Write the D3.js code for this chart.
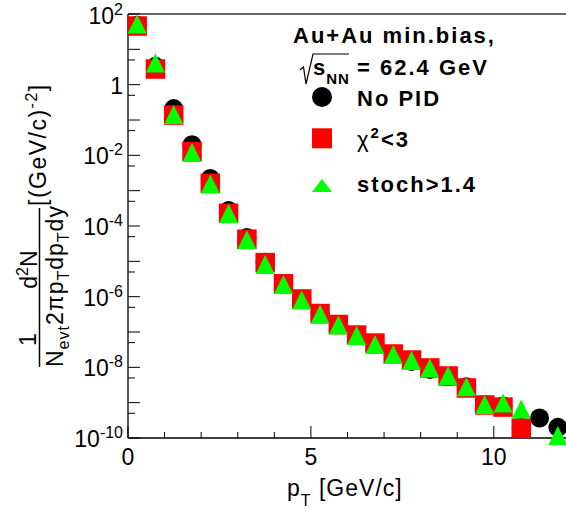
<!DOCTYPE html>
<html><head><meta charset="utf-8">
<script src="https://cdn.jsdelivr.net/npm/d3@7"></script>
<style>body{margin:0;background:#fff}svg{display:block}</style>
</head><body>
<script>
// ---- data ----
const pT = [0.25,0.75,1.25,1.75,2.25,2.75,3.25,3.75,4.25,4.75,5.25,5.75,6.25,6.75,7.25,7.75,8.25,8.75,9.25,9.75,10.25,10.75,11.25,11.75];
const noPID = [48,3.3,0.21,0.020,2.2e-3,2.75e-4,4.7e-5,9.4e-6,2.35e-6,8.6e-7,3.35e-7,1.6e-7,8.1e-8,4.7e-8,2.35e-8,1.46e-8,8.7e-9,5.6e-9,2.8e-9,8.8e-10,8.0e-10,2.0e-10,3.67e-10,2.0e-10];
const chi2 = [45.7,2.77,0.138,0.0128,1.61e-3,2.29e-4,4.23e-5,9.2e-6,2.32e-6,8.6e-7,3.33e-7,1.63e-7,8.2e-8,4.87e-8,2.38e-8,1.61e-8,9.6e-9,5.7e-9,2.6e-9,8.6e-10,7.5e-10,1.9e-10,null,null];
const stoch = [52,4.1,0.143,0.012,1.54e-3,2.25e-4,4.07e-5,8.1e-6,2.2e-6,8.0e-7,3.2e-7,1.58e-7,7.9e-8,4.4e-8,2.3e-8,1.56e-8,9.6e-9,5.9e-9,2.8e-9,8.9e-10,9.8e-10,6.6e-10,null,1.17e-10];
const xTicks = [0,5,10];
const yLabelExps = [2,0,-2,-4,-6,-8,-10];

const W=566,H=512;
const FONT='"Liberation Sans", Arial, Helvetica, sans-serif';
const svg=d3.select("body").append("svg").attr("width",W).attr("height",H);
const x=d3.scaleLinear().domain([0,12]).range([128,567]);
const y=d3.scaleLog().domain([1e-10,1e2]).range([438,14]);

// frame
svg.append("line").attr("x1",128).attr("x2",567).attr("y1",14).attr("y2",14).attr("stroke","#333").attr("stroke-width",1.5);
svg.append("line").attr("x1",128).attr("x2",128).attr("y1",14).attr("y2",438).attr("stroke","#000").attr("stroke-width",1.3);
svg.append("line").attr("x1",128).attr("x2",567).attr("y1",438).attr("y2",438).attr("stroke","#000").attr("stroke-width",1.3);

// x ticks
d3.range(0,13).forEach(v=>{
  const major = v%5===0;
  svg.append("line").attr("x1",x(v)).attr("x2",x(v)).attr("y1",438).attr("y2",438-(major?12:6)).attr("stroke","#000").attr("stroke-width",1);
});
xTicks.forEach(v=>{
  svg.append("text").attr("x",x(v)).attr("y",465).attr("text-anchor","middle")
    .attr("font-family",FONT).attr("font-size",23).text(v);
});
// x title
{
  const t=svg.append("text").attr("x",287).attr("y",496).attr("font-family",FONT).attr("font-size",23).attr("letter-spacing",1);
  t.append("tspan").text("p");
  t.append("tspan").attr("font-size",16).attr("dy",10).text("T");
  t.append("tspan").attr("dy",-10).text(" [GeV/c]");
}

// y ticks
for(let n=-10;n<=2;n++){
  svg.append("line").attr("x1",128).attr("x2",140).attr("y1",y(Math.pow(10,n))).attr("y2",y(Math.pow(10,n))).attr("stroke","#000");
  if(n<2){
    const v=5*Math.pow(10,n);
    svg.append("line").attr("x1",128).attr("x2",135).attr("y1",y(v)).attr("y2",y(v)).attr("stroke","#000");
  }
}
yLabelExps.forEach(n=>{
  const yy=y(Math.pow(10,n));
  const t=svg.append("text").attr("x",123).attr("y",yy+(n===2?10:9)).attr("text-anchor","end")
    .attr("font-family",FONT).attr("font-size",23);
  if(n===0){ t.text("1"); }
  else {
    t.append("tspan").text("10");
    t.append("tspan").attr("font-size",16).attr("dy",-9).text(n);
  }
});

// y title (rotated)
{
  const g=svg.append("g").attr("transform","translate(63,367) rotate(-90)")
    .attr("font-family",FONT).attr("font-size",23);
  const den=g.append("text").attr("x",0).attr("y",0).attr("letter-spacing",1);
  den.append("tspan").text("N");
  den.append("tspan").attr("font-size",16).attr("dy",6).text("evt");
  den.append("tspan").attr("dy",-6).text("2π");
  den.append("tspan").text("p");
  den.append("tspan").attr("font-size",16).attr("dy",6).text("T");
  den.append("tspan").attr("dy",-6).text("dp");
  den.append("tspan").attr("font-size",16).attr("dy",6).text("T");
  den.append("tspan").attr("dy",-6).text("dy");
  g.append("line").attr("x1",0).attr("x2",159).attr("y1",-23.5).attr("y2",-23.5).attr("stroke","#000").attr("stroke-width",1.5);
  g.append("text").attr("x",27.5).attr("y",-27).attr("text-anchor","middle").text("1");
  const num=g.append("text").attr("x",97.5).attr("y",-26.5).attr("text-anchor","middle");
  num.append("tspan").text("d");
  num.append("tspan").attr("font-size",16).attr("dy",-9).text("2");
  num.append("tspan").attr("dy",9).text("N");
  const br=g.append("text").attr("x",161).attr("y",-17).attr("letter-spacing",1.5);
  br.append("tspan").text("[(GeV/c)");
  br.append("tspan").attr("font-size",16).attr("dy",-9).text("-2");
  br.append("tspan").attr("dy",9).text("]");
}

// markers
function tri(cx,cy,w,h){return `M${cx-w/2},${cy+h/2}L${cx+w/2},${cy+h/2}L${cx},${cy-h/2}Z`;}
const blackData=pT.map((p,i)=>({p,v:noPID[i]})).filter(d=>d.v!=null);
const redData=pT.map((p,i)=>({p,v:chi2[i]})).filter(d=>d.v!=null);
const greenData=pT.map((p,i)=>({p,v:stoch[i]})).filter(d=>d.v!=null);
svg.append("g").selectAll("circle").data(blackData).join("circle")
  .attr("cx",d=>x(d.p)).attr("cy",d=>y(d.v)).attr("r",9.5).attr("fill","#000");
svg.append("g").selectAll("rect").data(redData).join("rect")
  .attr("x",d=>x(d.p)-9.75).attr("y",d=>y(d.v)-9.75).attr("width",19.5).attr("height",19.5).attr("fill","#ff0000");
svg.append("g").selectAll("path").data(greenData).join("path")
  .attr("d",d=>tri(x(d.p),y(d.v),19,19)).attr("fill","#00ff00");

// legend
{
  const L=svg.append("g").attr("font-family",FONT).attr("font-weight","bold").attr("font-size",22);
  L.append("text").attr("x",293).attr("y",43).attr("letter-spacing",2).text("Au+Au min.bias,");
  L.append("path").attr("d","M300,70L303.5,67L306,84L313,54L349,54").attr("fill","none").attr("stroke","#000").attr("stroke-width",1.2);
  const s=L.append("text").attr("x",313).attr("y",75).attr("letter-spacing",1);
  s.append("tspan").text("s");
  s.append("tspan").attr("font-size",15).attr("dy",9).text("NN");
  L.append("text").attr("x",357).attr("y",75).attr("letter-spacing",2).text("= 62.4 GeV");
  L.append("circle").attr("cx",322).attr("cy",97).attr("r",10).attr("fill","#000");
  L.append("text").attr("x",357).attr("y",106).attr("letter-spacing",2).text("No PID");
  L.append("rect").attr("x",312).attr("y",128.3).attr("width",20).attr("height",20).attr("fill","#ff0000");
  const c=L.append("text").attr("x",357).attr("y",147).attr("letter-spacing",2);
  c.append("tspan").attr("font-weight","normal").text("χ");
  c.append("tspan").attr("font-size",15).attr("dy",-9).text("2");
  c.append("tspan").attr("dy",9).text("<3");
  L.append("path").attr("d",tri(322,185.5,20,13)).attr("fill","#00ff00");
  L.append("text").attr("x",357).attr("y",192).attr("letter-spacing",2).text("stoch>1.4");
}
</script>
</body></html>
